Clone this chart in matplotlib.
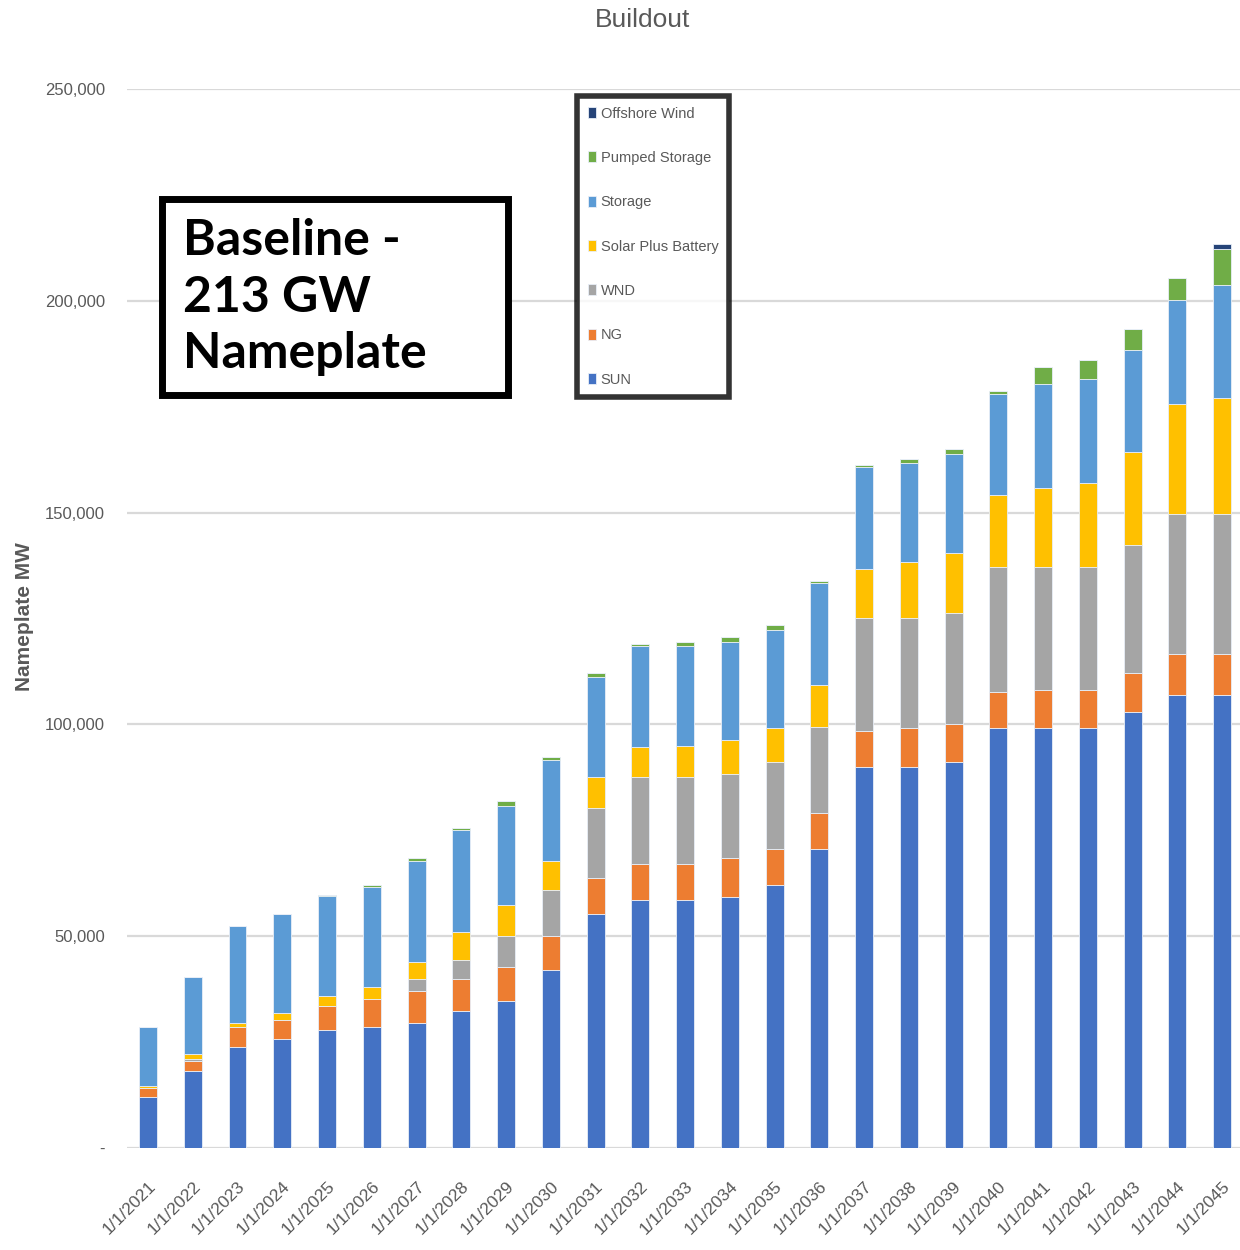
import numpy as np
import matplotlib
matplotlib.use("Agg")
import matplotlib.pyplot as plt
from matplotlib.patches import Rectangle

plt.rcParams["font.family"] = ["Liberation Sans Narrow", "Liberation Sans", "DejaVu Sans"]

years = [f"1/1/{y}" for y in range(2021, 2046)]

sun = [12000, 18250, 23900, 25650, 27850, 28500, 29600, 32400, 34700, 42100,
       55250, 58650, 58650, 59250, 62000, 70600, 90000, 90000, 91050, 99100,
       99100, 99100, 103000, 106950, 106950]
ng = [2250, 2300, 4550, 4500, 5650, 6750, 7400, 7400, 7950, 7950,
      8500, 8500, 8500, 9100, 8600, 8500, 8450, 9100, 9100, 8500,
      9050, 9050, 9050, 9700, 9700]
wnd = [0, 450, 0, 0, 0, 0, 2850, 4550, 7400, 10800,
       16450, 20500, 20500, 19900, 20500, 20400, 26700, 26050, 26150, 29600,
       29050, 29050, 30200, 33000, 33000]
solar_battery = [500, 1250, 1100, 1700, 2300, 2850, 4100, 6750, 7400, 6850,
                 7400, 6900, 7350, 7950, 8000, 9700, 11450, 13150, 14250, 17000,
                 18700, 19900, 22100, 26100, 27400]
storage = [13800, 18200, 22850, 23350, 23700, 23600, 23900, 23900, 23350, 23900,
           23500, 23850, 23450, 23350, 23300, 24150, 24100, 23350, 23300, 23900,
           24500, 24500, 23950, 24550, 26650]
pumped = [0, 0, 0, 0, 300, 400, 550, 550, 1100, 650,
          1000, 500, 1100, 1200, 1100, 450, 450, 1000, 1100, 650,
          3950, 4500, 5050, 5050, 8500]
offshore = [0] * 24 + [1200]

series = [
    ("SUN", sun, "#4472C4"),
    ("NG", ng, "#ED7D31"),
    ("WND", wnd, "#A5A5A5"),
    ("Solar Plus Battery", solar_battery, "#FFC000"),
    ("Storage", storage, "#5B9BD5"),
    ("Pumped Storage", pumped, "#70AD47"),
    ("Offshore Wind", offshore, "#264478"),
]

GREY = "#595959"

fig = plt.figure(figsize=(12.4, 12.5), dpi=100, facecolor="white")
ax = fig.add_axes([127 / 1240, 1 - 1148 / 1250, 1 - 127 / 1240, (1148 - 89) / 1250])

x = np.arange(len(years))
bottom = np.zeros(len(years))
handles = []
for name, vals, color in series:
    b = ax.bar(x, vals, width=0.4, bottom=bottom, color=color, label=name,
               edgecolor="#e8eef7", linewidth=0.6, zorder=3)
    handles.append(b)
    bottom += np.array(vals)

ax.set_xlim(-0.47, 24.4)
ax.set_ylim(0, 250000)
ax.set_yticks(range(0, 250001, 50000))
ax.set_yticklabels(["-"] + [f"{v:,}" for v in range(50000, 250001, 50000)],
                   color=GREY, fontsize=12)
ax.yaxis.grid(True, color="#d9d9d9", linewidth=1.6, zorder=0)
ax.set_axisbelow(True)
for s in ax.spines.values():
    s.set_visible(False)
ax.tick_params(axis="y", length=0, pad=16)
ax.tick_params(axis="x", length=0, pad=22)
ax.set_xticks(x)
ax.set_xticklabels(years, rotation=45, ha="right", rotation_mode="anchor",
                   color=GREY, fontsize=12.5)

fig.text(25 / 1240, 1 - 617 / 1250, "Nameplate MW", rotation=90, ha="center",
         va="center", color=GREY, fontsize=15, fontweight="bold")
fig.text(643 / 1240, 1 - 20 / 1250, "Buildout", ha="center", va="center",
         color=GREY, fontsize=19)

# annotation box
box = Rectangle((162 / 1240, 1 - 395 / 1250), (508 - 162) / 1240, (395 - 199) / 1250,
                transform=fig.transFigure, facecolor="white", edgecolor="black",
                linewidth=5, zorder=10)
fig.add_artist(box)
fig.text(183 / 1240, 1 - 297 / 1250, "Baseline -\n213 GW\nNameplate", ha="left",
         va="center", fontsize=36, fontweight="bold", linespacing=1.31,
         family=["Lato", "DejaVu Sans"], zorder=11)

leg = ax.legend(handles[::-1], [s[0] for s in series][::-1],
                loc="upper left", bbox_to_anchor=(577 / 1240, 1 - 96 / 1250),
                bbox_transform=fig.transFigure, frameon=True, fancybox=False,
                fontsize=10.5, labelcolor=GREY, handlelength=0.6, handleheight=0.8,
                handletextpad=0.3, labelspacing=2.08, borderpad=0.72,
                borderaxespad=0)
leg.get_frame().set_edgecolor("black")
leg.get_frame().set_linewidth(4)

fig.savefig("out.png", dpi=100, facecolor="white")
